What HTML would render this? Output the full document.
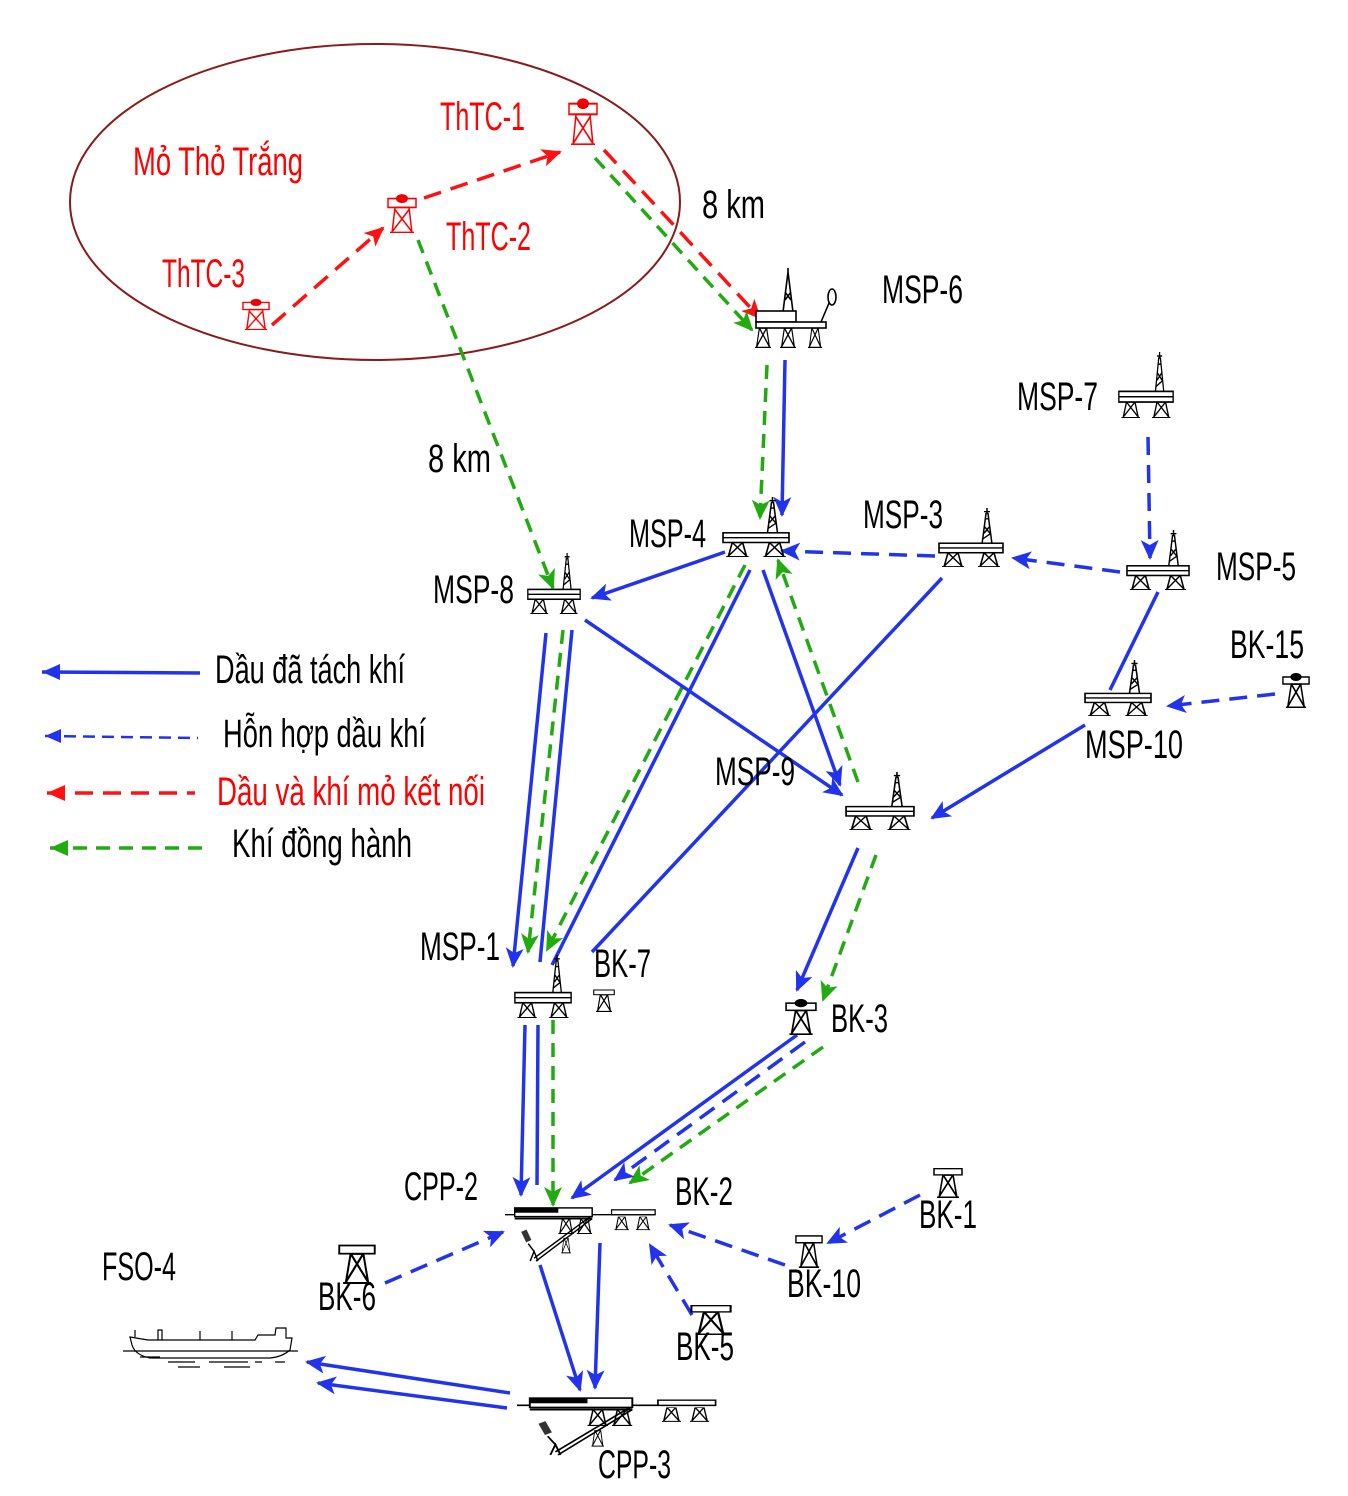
<!DOCTYPE html>
<html><head><meta charset="utf-8"><style>
html,body{margin:0;padding:0;background:#fff;}
svg{display:block;}
text{font-family:"Liberation Sans Narrow","Liberation Sans",sans-serif;font-size:40px;}
</style></head><body>
<svg width="1348" height="1496" viewBox="0 0 1348 1496" xmlns="http://www.w3.org/2000/svg">
<defs>
<marker id="mb" markerUnits="userSpaceOnUse" markerWidth="22" markerHeight="18" refX="18" refY="9" orient="auto"><path d="M0 0 L20 9 L0 18 L5 9 Z" fill="#2233ee"/></marker>
<marker id="mg" markerUnits="userSpaceOnUse" markerWidth="22" markerHeight="18" refX="18" refY="9" orient="auto"><path d="M0 0 L20 9 L0 18 L5 9 Z" fill="#22aa11"/></marker>
<marker id="mr" markerUnits="userSpaceOnUse" markerWidth="22" markerHeight="18" refX="18" refY="9" orient="auto"><path d="M0 0 L20 9 L0 18 L5 9 Z" fill="#ff1111"/></marker>
<symbol id="leg" viewBox="0 0 22 20" preserveAspectRatio="none"><path d="M2 20 L6 0 H16 L20 20 M6 0 L20 19 M16 0 L2 19 M0 19.5 H22" fill="none" stroke="#000" stroke-width="1.6"/></symbol>
<symbol id="der" viewBox="0 0 14 40" preserveAspectRatio="none"><path d="M2 40 L6 6 H8 L12 40 M4 28 L10 20 M4 20 L10 28 M3 34 L11 28 M5 12 L9 12 M7 0 V6 M4 4 H10" fill="none" stroke="#000" stroke-width="1.5"/></symbol>
<symbol id="plat" viewBox="0 0 66 62" preserveAspectRatio="none"><use href="#der" x="42" y="0" width="14" height="38"/><rect x="1" y="37" width="64" height="10" fill="#fff" stroke="#000" stroke-width="1.6"/><line x1="1" y1="42" x2="65" y2="42" stroke="#000" stroke-width="1.4"/><use href="#leg" x="4" y="47" width="22" height="15"/><use href="#leg" x="40" y="47" width="22" height="15"/></symbol>
<symbol id="bk" viewBox="0 0 30 36" preserveAspectRatio="none"><rect x="1" y="5" width="28" height="7" fill="#fff" stroke="#000" stroke-width="1.5"/><ellipse cx="15" cy="5" rx="6" ry="4" fill="#000"/><use href="#leg" x="4" y="12" width="22" height="24"/></symbol>
<symbol id="bk2" viewBox="0 0 30 36" preserveAspectRatio="none"><rect x="1" y="3" width="28" height="7" fill="#fff" stroke="#000" stroke-width="1.5"/><use href="#leg" x="4" y="10" width="22" height="26"/></symbol>
<symbol id="rbk" viewBox="0 0 30 36" preserveAspectRatio="none"><rect x="1" y="5" width="28" height="8" fill="#fff" stroke="#f00" stroke-width="1.5"/><ellipse cx="15" cy="5" rx="6" ry="4" fill="#e00"/><path d="M5 36 L8 13 H22 L25 36 M8 15 L25 35 M22 15 L5 35 M3 35.5 H27" fill="none" stroke="#f00" stroke-width="1.5"/></symbol>
<symbol id="cpp" viewBox="0 0 160 60" preserveAspectRatio="none"><line x1="0" y1="10" x2="155" y2="10" stroke="#000" stroke-width="1.5"/><rect x="10" y="3" width="80" height="9" fill="#fff" stroke="#000" stroke-width="1.5"/><rect x="10" y="3" width="45" height="5" fill="#000"/><line x1="10" y1="14" x2="90" y2="14" stroke="#000" stroke-width="2"/><rect x="110" y="5" width="45" height="5" fill="#fff" stroke="#000" stroke-width="1.3"/><use href="#leg" x="55" y="14" width="16" height="16"/><use href="#leg" x="74" y="14" width="16" height="16"/><use href="#leg" x="113" y="12" width="15" height="14"/><use href="#leg" x="135" y="12" width="15" height="14"/><path d="M30 55 L88 12 M32 58 L90 14" stroke="#000" stroke-width="1.5"/><use href="#leg" x="58" y="34" width="10" height="16"/><path d="M26 58 L30 48 L34 58 M24 40 L30 48" stroke="#000" stroke-width="1.5" fill="none"/><rect x="19" y="26" width="6" height="12" fill="#333" transform="rotate(-25 22 32)"/></symbol>
</defs>

<ellipse cx="375" cy="202" rx="305" ry="158" fill="none" stroke="#8b1a1a" stroke-width="2"/>

<g fill="none" stroke-width="3.5">
<g stroke="#ff1111" stroke-dasharray="18 10">
<line x1="272" y1="325" x2="383" y2="228" marker-end="url(#mr)"/>
<line x1="424" y1="198" x2="560" y2="152" marker-end="url(#mr)"/>
<line x1="604" y1="150" x2="760" y2="318" marker-end="url(#mr)"/>
<line x1="47" y1="793" x2="195" y2="793"/>
</g>
<path d="M47 793 l18 -8 v16 z" fill="#ff1111" stroke="none"/>
<g stroke="#22aa11" stroke-dasharray="14 9">
<line x1="595" y1="158" x2="752" y2="330" marker-end="url(#mg)"/>
<line x1="418" y1="240" x2="553" y2="588" marker-end="url(#mg)"/>
<line x1="767" y1="365" x2="760" y2="518" marker-end="url(#mg)"/>
<line x1="745" y1="565" x2="547" y2="950" marker-end="url(#mg)"/>
<line x1="563" y1="630" x2="528" y2="952" marker-end="url(#mg)"/>
<line x1="858" y1="782" x2="778" y2="560" marker-end="url(#mg)"/>
<line x1="876" y1="855" x2="823" y2="1000" marker-end="url(#mg)"/>
<line x1="553" y1="1020" x2="553" y2="1205" marker-end="url(#mg)"/>
<line x1="823" y1="1047" x2="630" y2="1183" marker-end="url(#mg)"/>
<line x1="50" y1="848" x2="208" y2="848"/>
</g>
<path d="M50 848 l18 -8 v16 z" fill="#22aa11" stroke="none"/>
<g stroke="#2233ee">
<line x1="785" y1="360" x2="782" y2="515" marker-end="url(#mb)"/>
<line x1="725" y1="552" x2="592" y2="598" marker-end="url(#mb)"/>
<line x1="546" y1="633" x2="513" y2="966" marker-end="url(#mb)"/>
<line x1="572" y1="630" x2="540" y2="962"/>
<line x1="750" y1="570" x2="552" y2="965"/>
<line x1="942" y1="578" x2="592" y2="952"/>
<line x1="585" y1="620" x2="842" y2="795" marker-end="url(#mb)"/>
<line x1="763" y1="570" x2="840" y2="785" marker-end="url(#mb)"/>
<line x1="1158" y1="592" x2="1110" y2="690"/>
<line x1="1085" y1="725" x2="932" y2="818" marker-end="url(#mb)"/>
<line x1="858" y1="848" x2="797" y2="990" marker-end="url(#mb)"/>
<line x1="797" y1="1035" x2="572" y2="1198" marker-end="url(#mb)"/>
<line x1="525" y1="1025" x2="521" y2="1195" marker-end="url(#mb)"/>
<line x1="538" y1="1025" x2="537" y2="1185"/>
<line x1="540" y1="1265" x2="580" y2="1390" marker-end="url(#mb)"/>
<line x1="600" y1="1243" x2="595" y2="1388" marker-end="url(#mb)"/>
<line x1="510" y1="1393" x2="307" y2="1362" marker-end="url(#mb)"/>
<line x1="507" y1="1408" x2="318" y2="1383" marker-end="url(#mb)"/>
<line x1="42" y1="672" x2="200" y2="673"/>
</g>
<path d="M42 672 l18 -8 v16 z" fill="#2233ee" stroke="none"/>
<g stroke="#2233ee" stroke-dasharray="18 10">
<line x1="1148" y1="437" x2="1150" y2="558" marker-end="url(#mb)"/>
<line x1="1120" y1="572" x2="1013" y2="558" marker-end="url(#mb)"/>
<line x1="935" y1="556" x2="782" y2="551" marker-end="url(#mb)"/>
<line x1="805" y1="1042" x2="615" y2="1180" marker-end="url(#mb)"/>
<line x1="1275" y1="694" x2="1168" y2="706" marker-end="url(#mb)"/>
<line x1="920" y1="1195" x2="828" y2="1243" marker-end="url(#mb)"/>
<line x1="785" y1="1265" x2="670" y2="1225" marker-end="url(#mb)"/>
<line x1="692" y1="1315" x2="650" y2="1245" marker-end="url(#mb)"/>
<line x1="385" y1="1283" x2="503" y2="1232" marker-end="url(#mb)"/>
</g>
<line x1="45" y1="736" x2="198" y2="738" stroke="#2233ee" stroke-width="2.5" stroke-dasharray="12 7"/>
<path d="M45 736 l16 -7 v14 z" fill="#2233ee"/>
</g>

<use href="#rbk" x="568" y="97" width="30" height="48"/>
<use href="#rbk" x="387" y="193" width="30" height="40"/>
<use href="#rbk" x="242" y="298" width="28" height="32"/>

<g stroke="#000" stroke-width="1.6" fill="#fff">
<path d="M783 312 L788 272 L793 312 M785 292 L791 300 M791 292 L785 300 M788 268 V272" fill="none"/>
<rect x="756" y="311" width="40" height="11"/>
<rect x="756" y="322" width="70" height="6"/>
<path d="M821 322 L832 296" fill="none"/>
<ellipse cx="832" cy="297" rx="4" ry="8"/>
</g>
<use href="#leg" x="755" y="328" width="16" height="20"/>
<use href="#leg" x="780" y="328" width="16" height="20"/>
<use href="#leg" x="808" y="328" width="14" height="20"/>

<use href="#plat" x="1118" y="352" width="56" height="66"/>
<use href="#plat" x="722" y="497" width="68" height="60"/>
<use href="#plat" x="938" y="508" width="66" height="59"/>
<use href="#plat" x="1126" y="530" width="64" height="60"/>
<use href="#plat" x="527" y="553" width="54" height="61"/>
<use href="#plat" x="1084" y="660" width="68" height="56"/>
<use href="#plat" x="845" y="772" width="70" height="58"/>
<use href="#plat" x="514" y="955" width="58" height="63"/>
<use href="#bk2" x="593" y="988" width="22" height="24"/>
<use href="#bk" x="1282" y="672" width="28" height="36"/>
<use href="#bk" x="785" y="998" width="32" height="37"/>
<use href="#bk2" x="933" y="1166" width="30" height="32"/>
<use href="#bk2" x="795" y="1233" width="28" height="35"/>
<use href="#bk2" x="338" y="1242" width="38" height="42"/>
<use href="#bk2" x="690" y="1303" width="42" height="32"/>
<use href="#cpp" x="505" y="1205" width="155" height="58"/>
<use href="#cpp" x="517" y="1395" width="205" height="62"/>

<g stroke="#000" stroke-width="1.2" fill="none">
<path d="M130 1337 L148 1340 H255 L258 1335 H275 L276 1328 H286 V1338 L292 1338 L290 1350 Q282 1357 270 1358 L150 1358 Q135 1355 132 1345 Z" fill="#fff"/>
<path d="M158 1340 V1330 H162 V1340 M200 1340 V1331 M232 1340 V1331 M135 1337 V1330"/>
<line x1="123" y1="1351" x2="298" y2="1351"/>
<path d="M168 1362 H195 M209 1362 H248 M140 1357 H160 M178 1367 H200 M224 1367 H250 M255 1362 H262 M275 1362 H285"/>
</g>

<g fill="#ff0000">
<text x="133" y="175" textLength="170" lengthAdjust="spacingAndGlyphs">Mỏ Thỏ Trắng</text>
<text x="440" y="130" textLength="85" lengthAdjust="spacingAndGlyphs">ThTC-1</text>
<text x="446" y="250" textLength="85" lengthAdjust="spacingAndGlyphs">ThTC-2</text>
<text x="162" y="287" textLength="83" lengthAdjust="spacingAndGlyphs">ThTC-3</text>
<text x="217" y="805" textLength="268" lengthAdjust="spacingAndGlyphs">Dầu và khí mỏ kết nối</text>
</g>
<g fill="#000">
<text x="702" y="218" textLength="63" lengthAdjust="spacingAndGlyphs">8 km</text>
<text x="428" y="472" textLength="63" lengthAdjust="spacingAndGlyphs">8 km</text>
<text x="882" y="303" textLength="81" lengthAdjust="spacingAndGlyphs">MSP-6</text>
<text x="1017" y="410" textLength="81" lengthAdjust="spacingAndGlyphs">MSP-7</text>
<text x="629" y="547" textLength="77" lengthAdjust="spacingAndGlyphs">MSP-4</text>
<text x="863" y="528" textLength="80" lengthAdjust="spacingAndGlyphs">MSP-3</text>
<text x="1216" y="580" textLength="80" lengthAdjust="spacingAndGlyphs">MSP-5</text>
<text x="433" y="603" textLength="81" lengthAdjust="spacingAndGlyphs">MSP-8</text>
<text x="1230" y="658" textLength="74" lengthAdjust="spacingAndGlyphs">BK-15</text>
<text x="1085" y="758" textLength="98" lengthAdjust="spacingAndGlyphs">MSP-10</text>
<text x="715" y="785" textLength="80" lengthAdjust="spacingAndGlyphs">MSP-9</text>
<text x="420" y="960" textLength="80" lengthAdjust="spacingAndGlyphs">MSP-1</text>
<text x="594" y="977" textLength="57" lengthAdjust="spacingAndGlyphs">BK-7</text>
<text x="831" y="1032" textLength="57" lengthAdjust="spacingAndGlyphs">BK-3</text>
<text x="404" y="1200" textLength="74" lengthAdjust="spacingAndGlyphs">CPP-2</text>
<text x="675" y="1205" textLength="58" lengthAdjust="spacingAndGlyphs">BK-2</text>
<text x="919" y="1228" textLength="58" lengthAdjust="spacingAndGlyphs">BK-1</text>
<text x="787" y="1297" textLength="74" lengthAdjust="spacingAndGlyphs">BK-10</text>
<text x="318" y="1310" textLength="58" lengthAdjust="spacingAndGlyphs">BK-6</text>
<text x="676" y="1360" textLength="58" lengthAdjust="spacingAndGlyphs">BK-5</text>
<text x="102" y="1280" textLength="74" lengthAdjust="spacingAndGlyphs">FSO-4</text>
<text x="598" y="1478" textLength="73" lengthAdjust="spacingAndGlyphs">CPP-3</text>
<text x="215" y="683" textLength="190" lengthAdjust="spacingAndGlyphs">Dầu đã tách khí</text>
<text x="223" y="747" textLength="203" lengthAdjust="spacingAndGlyphs">Hỗn hợp dầu khí</text>
<text x="232" y="857" textLength="180" lengthAdjust="spacingAndGlyphs">Khí đồng hành</text>
</g>
</svg>
</body></html>
